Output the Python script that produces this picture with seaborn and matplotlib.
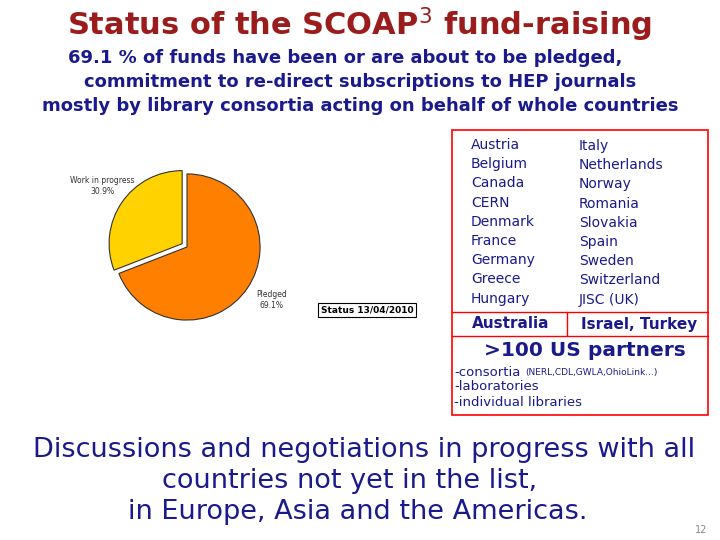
import matplotlib
matplotlib.use("Agg")
import matplotlib.pyplot as plt
import matplotlib.patches as mpatches
import seaborn as sns

sns.set_theme(style="white")
plt.rcParams['font.family'] = ['DejaVu Sans']

slice_labels = ["Pledged", "Work in progress"]
slice_values = [69.1, 30.9]
slice_colors = ["#ff7f00", "#ffd200"]
countries_left = ["Austria", "Belgium", "Canada", "CERN", "Denmark", "France",
                  "Germany", "Greece", "Hungary"]
countries_right = ["Italy", "Netherlands", "Norway", "Romania", "Slovakia",
                   "Spain", "Sweden", "Switzerland", "JISC (UK)"]

W, H = 720, 540
fig = plt.figure(figsize=(7.2, 5.4), dpi=100)
navy = "#1a1a8c"
red = "#9b1c1c"

def T(x, y, s, **kw):
    fig.text(x / W, 1 - y / H, s, **kw)

T(360, 25, "Status of the SCOAP$^3$ fund-raising", ha="center", va="center",
  fontsize=22, fontweight="bold", color=red)
for i, line in enumerate(["69.1 % of funds have been or are about to be pledged,",
                          "commitment to re-direct subscriptions to HEP journals",
                          "mostly by library consortia acting on behalf of whole countries"]):
    T(360 if i else 345, 58 + i * 24, line, ha="center", va="center",
      fontsize=13, fontweight="bold", color=navy)

# pie
pw = 190
ax = fig.add_axes([(187 - pw / 2) / W, 1 - (247 + pw / 2) / H, pw / W, pw / H])
ax.pie(slice_values, colors=slice_colors, explode=[0, 0.08], startangle=90,
       counterclock=False, wedgeprops=dict(edgecolor="#333333", linewidth=0.8))
ax.set_xlim(-1.3, 1.3)
ax.set_ylim(-1.3, 1.3)
ax.set_aspect("equal")
ax.axis("off")
T(102, 186, f"{slice_labels[1]}\n{slice_values[1]:.1f}%", ha="center", va="center",
  fontsize=5.5, color="#333333")
T(272, 300, f"{slice_labels[0]}\n{slice_values[0]:.1f}%", ha="center", va="center",
  fontsize=5.5, color="#333333")
T(367, 310, "Status 13/04/2010", ha="center", va="center", fontsize=6.5,
  fontweight="bold", color="black",
  bbox=dict(boxstyle="square,pad=0.3", fc="white", ec="black", lw=0.8))

# red box
fig.patches.append(mpatches.Rectangle((452 / W, 1 - 415 / H), 256 / W, 285 / H,
                                      transform=fig.transFigure, fill=False,
                                      ec="red", lw=1.2))
for i, c in enumerate(countries_left):
    T(471, 145 + i * 19.2, c, ha="left", va="center", fontsize=10, color=navy)
for i, c in enumerate(countries_right):
    T(579, 146 + i * 19.2, c, ha="left", va="center", fontsize=10, color=navy)
T(472, 324, "Australia", ha="left", va="center", fontsize=11, fontweight="bold", color=navy)
T(581, 325, "Israel, Turkey", ha="left", va="center", fontsize=11, fontweight="bold", color=navy)
fig.lines.append(plt.Line2D([452 / W, 708 / W], [1 - 312 / H] * 2, transform=fig.transFigure,
                            color="red", lw=1))
fig.lines.append(plt.Line2D([567 / W] * 2, [1 - 312 / H, 1 - 336 / H], transform=fig.transFigure,
                            color="red", lw=1))
fig.lines.append(plt.Line2D([452 / W, 708 / W], [1 - 336 / H] * 2, transform=fig.transFigure,
                            color="red", lw=1))
T(585, 350, ">100 US partners", ha="center", va="center", fontsize=14.5,
  fontweight="bold", color=navy)
T(454, 372, "-consortia", ha="left", va="center", fontsize=9.5, color=navy)
T(525, 372, "(NERL,CDL,GWLA,OhioLink...)", ha="left", va="center", fontsize=6.5, color=navy)
T(454, 386, "-laboratories", ha="left", va="center", fontsize=9.5, color=navy)
T(454, 402, "-individual libraries", ha="left", va="center", fontsize=9.5, color=navy)

for i, line in enumerate(["Discussions and negotiations in progress with all",
                          "countries not yet in the list,",
                          "in Europe, Asia and the Americas."]):
    T([364, 350, 358][i], 450 + i * 31, line, ha="center", va="center",
      fontsize=19.5, color=navy)
T(707, 530, "12", ha="right", va="center", fontsize=7, color="#888888")

fig.savefig("out.png", dpi=100)
